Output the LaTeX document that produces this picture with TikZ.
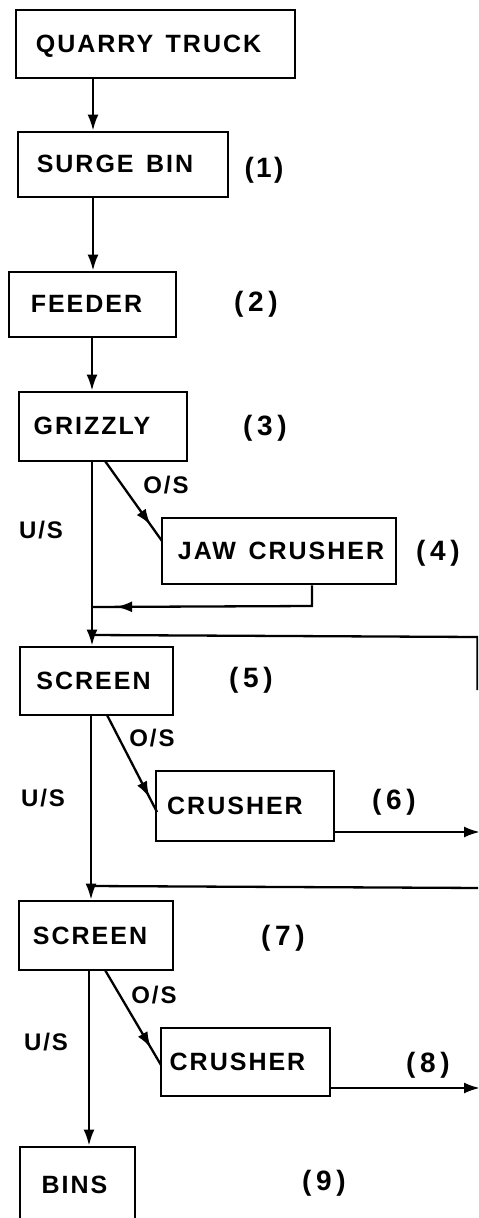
\documentclass[tikz,border=0pt]{standalone}
\usepackage{fontspec}
\setmainfont{Liberation Sans}[LetterSpace=8]
\usetikzlibrary{arrows.meta,decorations.markings}
\tikzset{
  box/.style={draw, line width=1.4pt, inner sep=0pt, text height=8.5pt, text depth=0pt,
    font=\bfseries\fontsize{12.5}{14}\selectfont},
  flow/.style={line width=1.15pt},
  arr/.style={flow, -{Latex[length=8pt,width=5.5pt]}},
  midarr/.style={flow, postaction={decorate}, decoration={markings, mark=at position #1 with {\arrow{Latex[length=8pt,width=5.5pt]}}}},
  midarr/.default=0.8,
  num/.style={font=\bfseries\fontsize{14}{16}\selectfont},
  side/.style={font=\bfseries\fontsize{12}{14}\selectfont},
}
% name, x1, y1, x2, y2, text, shift of text to the left (pt)
\newcommand\pbox[7]{\node[box, minimum width={(#4-#2)*0.5pt}, minimum height={(#5-#3)*0.5pt}]
  (#1) at ({(#2+#4)/2},{(#3+#5)/2}) {#6\kern#7pt};}
\begin{document}
\begin{tikzpicture}[x={(0.5pt,0)}, y={(0,-0.5pt)}]
\useasboundingbox (0,0) rectangle (478,1218);
\clip (0,0) rectangle (478,1218);
% boxes
\pbox{qt}{16}{10}{295}{78}{QUARRY\hspace{0.5em}TRUCK}{7}
\pbox{sb}{18}{132}{228}{197}{SURGE\hspace{0.5em}BIN}{8}
\pbox{fd}{9}{272}{176}{337}{FEEDER}{6}
\pbox{gr}{19}{392}{187}{461}{GRIZZLY}{11}
\pbox{jc}{162}{518}{396}{584}{JAW\hspace{0.5em}CRUSHER}{-2}
\pbox{s5}{20}{647}{173}{715}{SCREEN}{3}
\pbox{c6}{156}{771}{334}{841}{CRUSHER}{10}
\pbox{s7}{19}{901}{173}{970}{SCREEN}{6}
\pbox{c8}{161}{1028}{330}{1096}{CRUSHER}{8}
\pbox{bins}{20}{1147}{135}{1222}{BINS}{3}
% numbers
\node[num] (n1) at (264,170) {(1)};
\node[num] (n2) at (256,304) {(\,2\,)};
\node[num] (n3) at (265,428) {(\,3\,)};
\node[num] (n4) at (438,553) {(\,4\,)};
\node[num] (n5) at (251,680) {(\,5\,)};
\node[num] (n6) at (394,802) {(\,6\,)};
\node[num] (n7) at (283,938) {(\,7\,)};
\node[num] (n8) at (428,1065) {(\,8\,)};
\node[num] (n9) at (324,1183) {(\,9\,)};
% side labels
\node[side] (os3) at (166,485) {O/S};
\node[side] (us3) at (41,530) {U/S};
\node[side] (os5) at (152,738) {O/S};
\node[side] (us5) at (43,798) {U/S};
\node[side] (os7) at (154,995) {O/S};
\node[side] (us7) at (46,1042) {U/S};
% coordinates
\coordinate (v93) at (93,0);
\coordinate (v92) at (92,0);
\coordinate (v91) at (91,0);
\coordinate (v89) at (89,0);
\coordinate (g1) at (105,461);
\coordinate (g2) at (162,541);
\coordinate (r1) at (312,606);
\coordinate (j1) at (92,607);
\coordinate (e1) at (477.5,690);
\coordinate (e2) at (477.5,637);
\coordinate (j2) at (92,635);
\coordinate (d5a) at (107,715);
\coordinate (d5b) at (157,812);
\coordinate (o6) at (480,832);
\coordinate (e3) at (482,888);
\coordinate (j3) at (91,886);
\coordinate (d7a) at (105,970);
\coordinate (d7b) at (161,1065);
\coordinate (o8) at (480,1088);
% connectors
\draw[arr] (qt.south -| v93) -- (sb.north -| v93);
\draw[arr] (sb.south -| v93) -- (fd.north -| v93);
\draw[arr] (fd.south -| v92) -- (gr.north -| v92);
\draw[arr] (gr.south -| v92) -- (s5.north -| v92);
\draw[midarr=0.8] (g1) -- (g2);
\draw[midarr=0.9] (jc.south -| r1) -- (r1) -- (j1);
\draw[flow] (e1) -- (e2) -- (j2);
\draw[arr] (s5.south -| v91) -- (s7.north -| v91);
\draw[midarr=0.85] (d5a) -- (d5b);
\draw[arr] (c6.east |- o6) -- (o6);
\draw[flow] (e3) -- (j3);
\draw[arr] (s7.south -| v89) -- (bins.north -| v89);
\draw[midarr=0.82] (d7a) -- (d7b);
\draw[arr] (c8.east |- o8) -- (o8);
\end{tikzpicture}
\end{document}
